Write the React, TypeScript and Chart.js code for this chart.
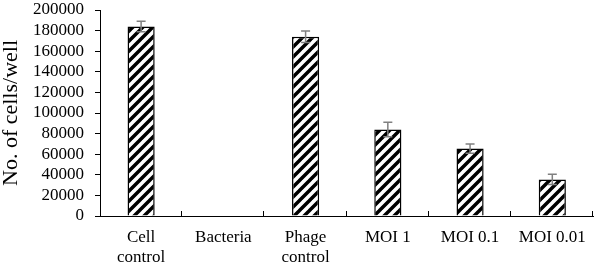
import React, { useEffect, useRef } from "react";
import { Chart, registerables } from "chart.js";

Chart.register(...registerables);

const categories: string[][] = [
  ["Cell", "control"],
  ["Bacteria"],
  ["Phage", "control"],
  ["MOI 1"],
  ["MOI 0.1"],
  ["MOI 0.01"],
];
const cellCounts: number[] = [184000, 0, 174000, 84000, 65500, 35500];
const errors: number[] = [5000, 0, 5500, 7000, 4500, 5000];
const yTicks: number[] = [0, 20000, 40000, 60000, 80000, 100000, 120000, 140000, 160000, 180000, 200000];

const FONT = "'Liberation Serif', 'Times New Roman', serif";

function makeHatch(): CanvasPattern | string {
  const size = 10;
  const c = document.createElement("canvas");
  c.width = size;
  c.height = size;
  const ctx = c.getContext("2d");
  if (!ctx) return "#fff";
  ctx.fillStyle = "#fff";
  ctx.fillRect(0, 0, size, size);
  ctx.strokeStyle = "#000";
  ctx.lineWidth = 3.5;
  ctx.beginPath();
  for (let k = -1; k <= 1; k++) {
    ctx.moveTo(k * size - 1, size + 1);
    ctx.lineTo(k * size + size + 1, -1);
  }
  ctx.stroke();
  const p = ctx.createPattern(c, "repeat");
  return p || "#fff";
}

const errorBarPlugin = {
  id: "errorBars",
  afterDatasetsDraw(chart: any) {
    const ctx = chart.ctx;
    const meta = chart.getDatasetMeta(0);
    const y = chart.scales.y;
    ctx.save();
    ctx.strokeStyle = "#808080";
    ctx.lineWidth = 1.5;
    meta.data.forEach((bar: any, i: number) => {
      const e = errors[i];
      if (!e) return;
      const v = cellCounts[i];
      const x = bar.x;
      const top = y.getPixelForValue(v + e);
      const bot = y.getPixelForValue(v - e);
      const cap = 4.5;
      ctx.beginPath();
      ctx.moveTo(x, top);
      ctx.lineTo(x, bot);
      ctx.moveTo(x - cap, top);
      ctx.lineTo(x + cap, top);
      ctx.moveTo(x - cap, bot);
      ctx.lineTo(x + cap, bot);
      ctx.stroke();
    });
    ctx.restore();
  },
  afterDraw(chart: any) {
    const ctx = chart.ctx;
    const x = chart.scales.x;
    const area = chart.chartArea;
    const n = categories.length;
    ctx.save();
    ctx.strokeStyle = "#000";
    ctx.lineWidth = 1;
    ctx.beginPath();
    for (let i = 1; i <= n; i++) {
      const px = Math.round(x.left + ((x.right - x.left) * i) / n) - 0.5;
      ctx.moveTo(px, area.bottom);
      ctx.lineTo(px, area.bottom - 5);
    }
    ctx.stroke();
    ctx.restore();
  },
};

export default function App() {
  const ref = useRef<HTMLCanvasElement | null>(null);
  useEffect(() => {
    if (!ref.current) return;
    const chart = new Chart(ref.current, {
      type: "bar",
      data: {
        labels: categories,
        datasets: [
          {
            data: cellCounts,
            backgroundColor: makeHatch() as any,
            borderColor: "#000",
            borderWidth: 1.5,
            barPercentage: 0.33,
            categoryPercentage: 1,
          },
        ],
      },
      options: {
        animation: false,
        responsive: false,
        maintainAspectRatio: false,
        layout: { padding: { top: 0, right: 2, left: 0, bottom: 0 } },
        plugins: { legend: { display: false }, tooltip: { enabled: false } },
        scales: {
          x: {
            offset: true,
            grid: { display: false, drawTicks: false },
            border: { display: true, color: "#000", width: 1 },
            ticks: {
              color: "#000",
              font: { family: FONT, size: 17, lineHeight: 1.15 },
              padding: 12,
              maxRotation: 0,
              autoSkip: false,
            },
            afterFit: (s: any) => {
              s.height = 52;
            },
          },
          y: {
            min: 0,
            max: 200000,
            afterBuildTicks: (s: any) => {
              s.ticks = yTicks.map((v) => ({ value: v }));
            },
            grid: { drawOnChartArea: false, drawTicks: true, tickLength: 5, color: "#000" },
            border: { display: true, color: "#000", width: 1 },
            ticks: {
              color: "#000",
              font: { family: FONT, size: 17 },
              padding: 11,
              autoSkip: false,
              callback: (v: any) => String(v),
            },
            title: {
              display: true,
              text: "No. of cells/well",
              color: "#000",
              font: { family: FONT, size: 22, lineHeight: 1 },
              padding: { top: 0, bottom: 0 },
            },
            afterFit: (s: any) => {
              s.width = 100;
              s.paddingTop = 10;
              s.paddingBottom = 0;
            },
          },
        },
      },
      plugins: [errorBarPlugin],
    });
    return () => chart.destroy();
  }, []);
  return (
    <div style={{ position: "fixed", left: 0, top: 0, width: 598, height: 268, background: "#fff" }}>
      <canvas ref={ref} width={598} height={268} style={{ display: "block" }} />
    </div>
  );
}
